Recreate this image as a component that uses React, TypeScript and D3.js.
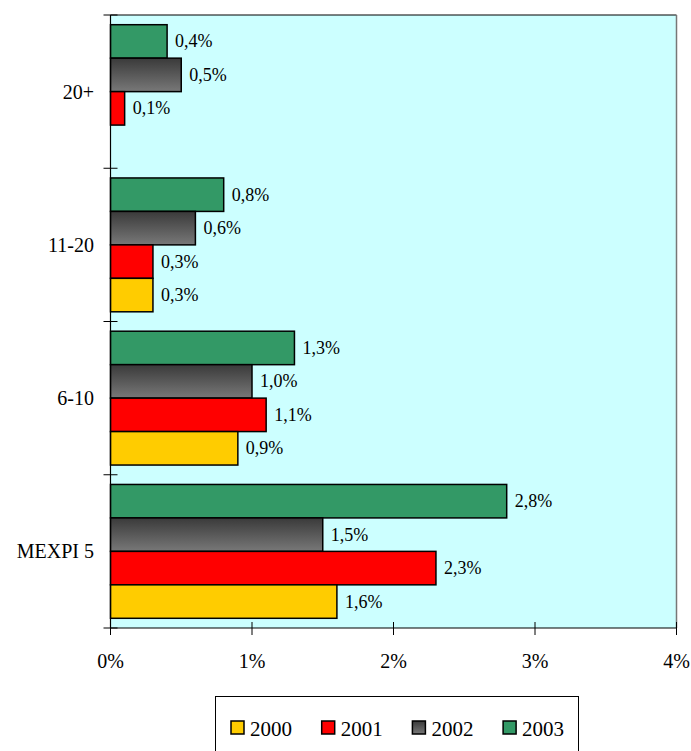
import * as d3 from 'd3';

const categories = ['20+', '11-20', '6-10', 'MEXPI 5'];
const series = ['2003', '2002', '2001', '2000'];
const legendOrder = ['2000', '2001', '2002', '2003'];
const values2000: (number | null)[] = [null, 0.3, 0.9, 1.6];
const values2001 = [0.1, 0.3, 1.1, 2.3];
const values2002 = [0.5, 0.6, 1.0, 1.5];
const values2003 = [0.4, 0.8, 1.3, 2.8];
const xTicks = [0, 1, 2, 3, 4];

const seriesValues: Record<string, (number | null)[]> = {
  '2000': values2000,
  '2001': values2001,
  '2002': values2002,
  '2003': values2003,
};

const colors: Record<string, string> = {
  '2000': '#FFCC00',
  '2001': '#FF0000',
  '2002': 'url(#grayGrad)',
  '2003': '#339966',
};

const W = 691;
const H = 751;
const plot = { left: 110.5, right: 676.5, top: 15, bottom: 628 };
const FONT = '"Liberation Serif", "Times New Roman", serif';

const fmt = (v: number) => v.toFixed(1).replace('.', ',') + '%';

export default function App() {
  const x = d3.scaleLinear().domain([0, 4]).range([plot.left, plot.right]);
  const y = d3
    .scaleBand<string>()
    .domain(categories)
    .range([plot.top, plot.bottom])
    .padding(0);
  const inner = d3
    .scaleBand<string>()
    .domain(series)
    .range([0, y.bandwidth()])
    .paddingInner(0)
    .paddingOuter(0.29);

  const boundaries = categories.map((c) => y(c)!).concat([plot.bottom]);

  return (
    <svg
      width={W}
      height={H}
      style={{ position: 'absolute', left: 0, top: 0, background: '#fff' }}
      fontFamily={FONT}
    >
      <defs>
        <linearGradient id="grayGrad" x1="0" y1="0" x2="0" y2="1">
          <stop offset="0%" stopColor="#3a3a3a" />
          <stop offset="100%" stopColor="#787878" />
        </linearGradient>
      </defs>

      {/* plot background */}
      <rect
        x={plot.left}
        y={plot.top}
        width={plot.right - plot.left}
        height={plot.bottom - plot.top}
        fill="#CCFFFF"
      />
      <line x1={plot.left} x2={plot.right} y1={plot.top} y2={plot.top} stroke="#000" strokeWidth={1} />
      <line x1={plot.right} x2={plot.right} y1={plot.top} y2={plot.bottom} stroke="#777" strokeWidth={1.5} />

      {/* bars */}
      {categories.map((cat, ci) =>
        series.map((s) => {
          const v = seriesValues[s][ci];
          if (v == null) return null;
          const by = y(cat)! + inner(s)!;
          const bh = inner.bandwidth();
          return (
            <g key={cat + s}>
              <rect
                x={x(0)}
                y={by}
                width={x(v) - x(0)}
                height={bh}
                fill={colors[s]}
                stroke="#000"
                strokeWidth={1.5}
              />
              <text
                x={x(v) + 8}
                y={by + bh / 2}
                dominantBaseline="central"
                fontSize={18}
                fill="#000"
              >
                {fmt(v)}
              </text>
            </g>
          );
        }),
      )}

      {/* axes */}
      <line x1={plot.left} x2={plot.left} y1={plot.top} y2={plot.bottom} stroke="#000" strokeWidth={1.2} />
      <line x1={plot.left} x2={plot.right} y1={plot.bottom} y2={plot.bottom} stroke="#000" strokeWidth={1.2} />
      {boundaries.map((b, i) => (
        <line key={'yt' + i} x1={plot.left - 7} x2={plot.left + 7} y1={b} y2={b} stroke="#000" strokeWidth={1} />
      ))}
      {xTicks.map((t) => (
        <g key={'xt' + t}>
          <line x1={x(t)} x2={x(t)} y1={plot.bottom - 6} y2={plot.bottom + 7} stroke="#000" strokeWidth={1} />
          <text x={x(t)} y={668} textAnchor="middle" fontSize={20} fill="#000">
            {t + '%'}
          </text>
        </g>
      ))}
      {categories.map((cat) => (
        <text
          key={'cl' + cat}
          x={94}
          y={y(cat)! + y.bandwidth() / 2}
          textAnchor="end"
          dominantBaseline="central"
          fontSize={20}
          fill="#000"
        >
          {cat}
        </text>
      ))}

      {/* legend */}
      <rect x={215.5} y={696.5} width={363} height={70} fill="#fff" stroke="#000" strokeWidth={1} />
      {legendOrder.map((s, i) => {
        const lx = 231 + i * 90.7;
        return (
          <g key={'lg' + s}>
            <rect x={lx} y={721} width={13} height={13} fill={colors[s]} stroke="#000" strokeWidth={1.5} />
            <text x={lx + 19} y={736} fontSize={21} fill="#000">
              {s}
            </text>
          </g>
        );
      })}
    </svg>
  );
}
